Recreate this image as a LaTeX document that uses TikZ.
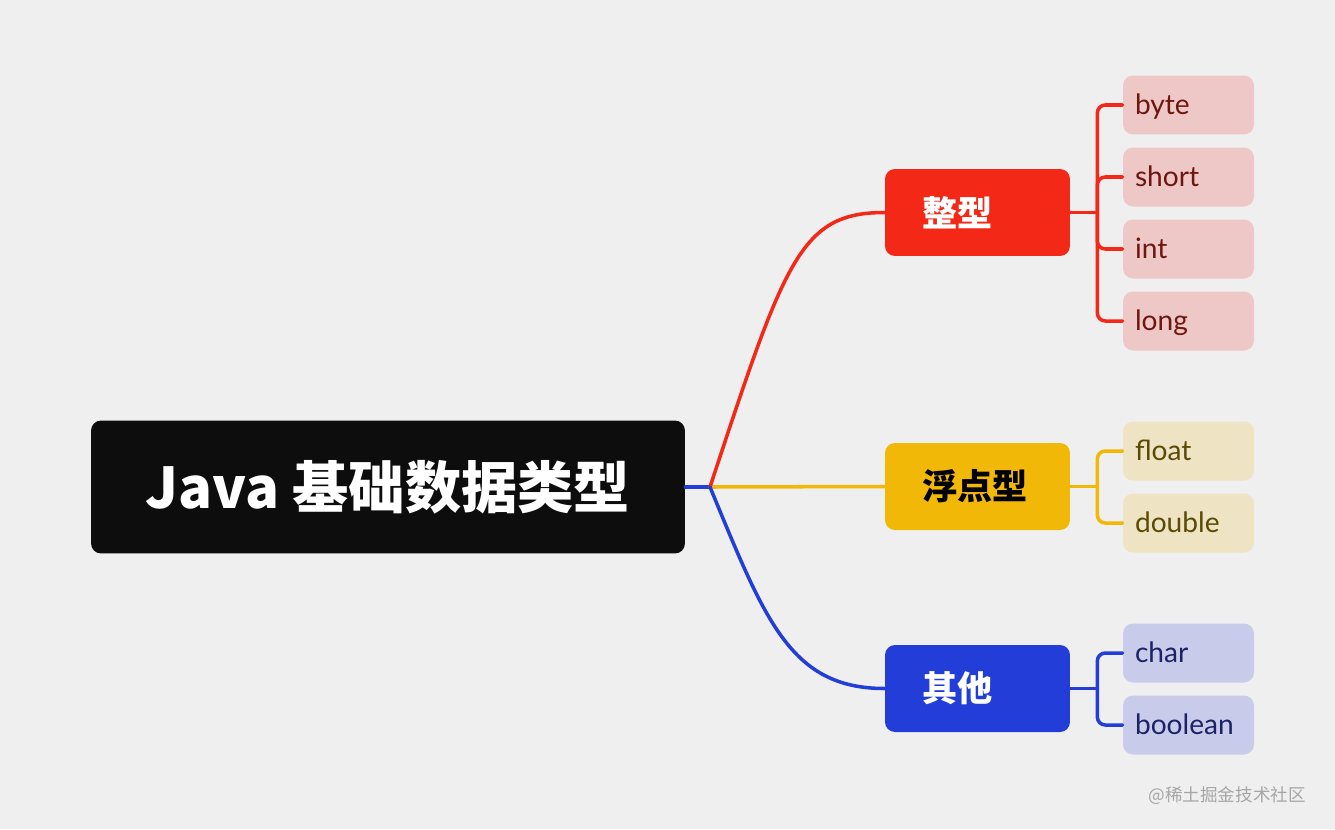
\documentclass[tikz,border=0pt]{standalone}
\usepackage{fontspec}
\usepackage{xcolor}
\setmainfont{Lato}
\newfontfamily\cjk{Noto Sans CJK SC}
\usetikzlibrary{positioning}

\definecolor{bgc}{HTML}{EFEFEF}
\definecolor{rootc}{HTML}{0D0D0D}
\definecolor{redc}{HTML}{F32817}
\definecolor{yelc}{HTML}{F2B807}
\definecolor{bluc}{HTML}{233DD9}
\definecolor{redleaf}{HTML}{EEC8C6}
\definecolor{redtext}{HTML}{6E1610}
\definecolor{yelleaf}{HTML}{EEE3C3}
\definecolor{yeltext}{HTML}{5B4A06}
\definecolor{bluleaf}{HTML}{C9CBEA}
\definecolor{blutext}{HTML}{1B2366}

\tikzset{
  rootbox/.style={fill=rootc, text=white, rounded corners=0.2cm,
    minimum width=11.88cm, minimum height=2.66cm,
    font=\cjk\bfseries\fontsize{32}{38}\selectfont},
  branch/.style={rounded corners=0.2cm, minimum width=3.7cm, minimum height=1.74cm,
    inner xsep=0.74cm, text width=2.22cm, align=left,
    font=\cjk\bfseries\fontsize{20}{24}\selectfont},
  leaf/.style={rounded corners=0.2cm, minimum width=2.62cm, minimum height=1.18cm,
    inner xsep=0.24cm, text width=2.14cm, align=left,
    text height=12.5pt, text depth=1.5pt,
    font=\fontsize{16}{19}\selectfont},
  link/.style={line width=2pt, line cap=round},
}

\begin{document}
\begin{tikzpicture}[x=0.02cm, y=-0.02cm]
    \fill[bgc] (0,0) rectangle (1335,829);
    \useasboundingbox (0,0) rectangle (1335,829);

    % Root and the three groups
    \node[rootbox] (root) at (388,487) {Java 基础数据类型};
    \node[branch, fill=redc, text=white] (zx) at (977.5,212.5) {整型};
    \node[branch, fill=yelc, text=black] (fd) at (977.5,486.5) {浮点型};
    \node[branch, fill=bluc, text=white] (qt) at (977.5,688.5) {其他};

    % Curves from the root
    \coordinate (hub) at (710,487);
    \draw[link, bluc] (root.east) -- (hub);
    \draw[link, yelc] (hub) -- (fd.west);
    \draw[link, redc] (hub) .. controls (785,260) and (800,212.5) .. (zx.west);
    \draw[link, bluc] (hub) .. controls (765,620) and (790,688.5) .. (qt.west);

    % Integer types
    \coordinate[right=0.54cm of zx] (zxj);
    \draw[link, redc] (zx.east) -- (zxj);
    \foreach \name/\y in {byte/105, short/177, int/249, long/321} {
        \node[leaf, fill=redleaf, text=redtext] (\name) at (1188.5,\y) {\name};
        \draw[link, redc, rounded corners=0.16cm] (zxj) |- (\name.west);
    }

    % Floating point types
    \coordinate[right=0.54cm of fd] (fdj);
    \draw[link, yelc] (fd.east) -- (fdj);
    \foreach \name/\y in {float/451, double/523} {
        \node[leaf, fill=yelleaf, text=yeltext] (\name) at (1188.5,\y) {\name};
        \draw[link, yelc, rounded corners=0.16cm] (fdj) |- (\name.west);
    }

    % Others
    \coordinate[right=0.54cm of qt] (qtj);
    \draw[link, bluc] (qt.east) -- (qtj);
    \foreach \name/\y in {char/653, boolean/725} {
        \node[leaf, fill=bluleaf, text=blutext] (\name) at (1188.5,\y) {\name};
        \draw[link, bluc, rounded corners=0.16cm] (qtj) |- (\name.west);
    }

    \node[anchor=east, text=black!35, font=\cjk\fontsize{10}{12}\selectfont] (wm) at (1312,796) {@稀土掘金技术社区};
\end{tikzpicture}
\end{document}
